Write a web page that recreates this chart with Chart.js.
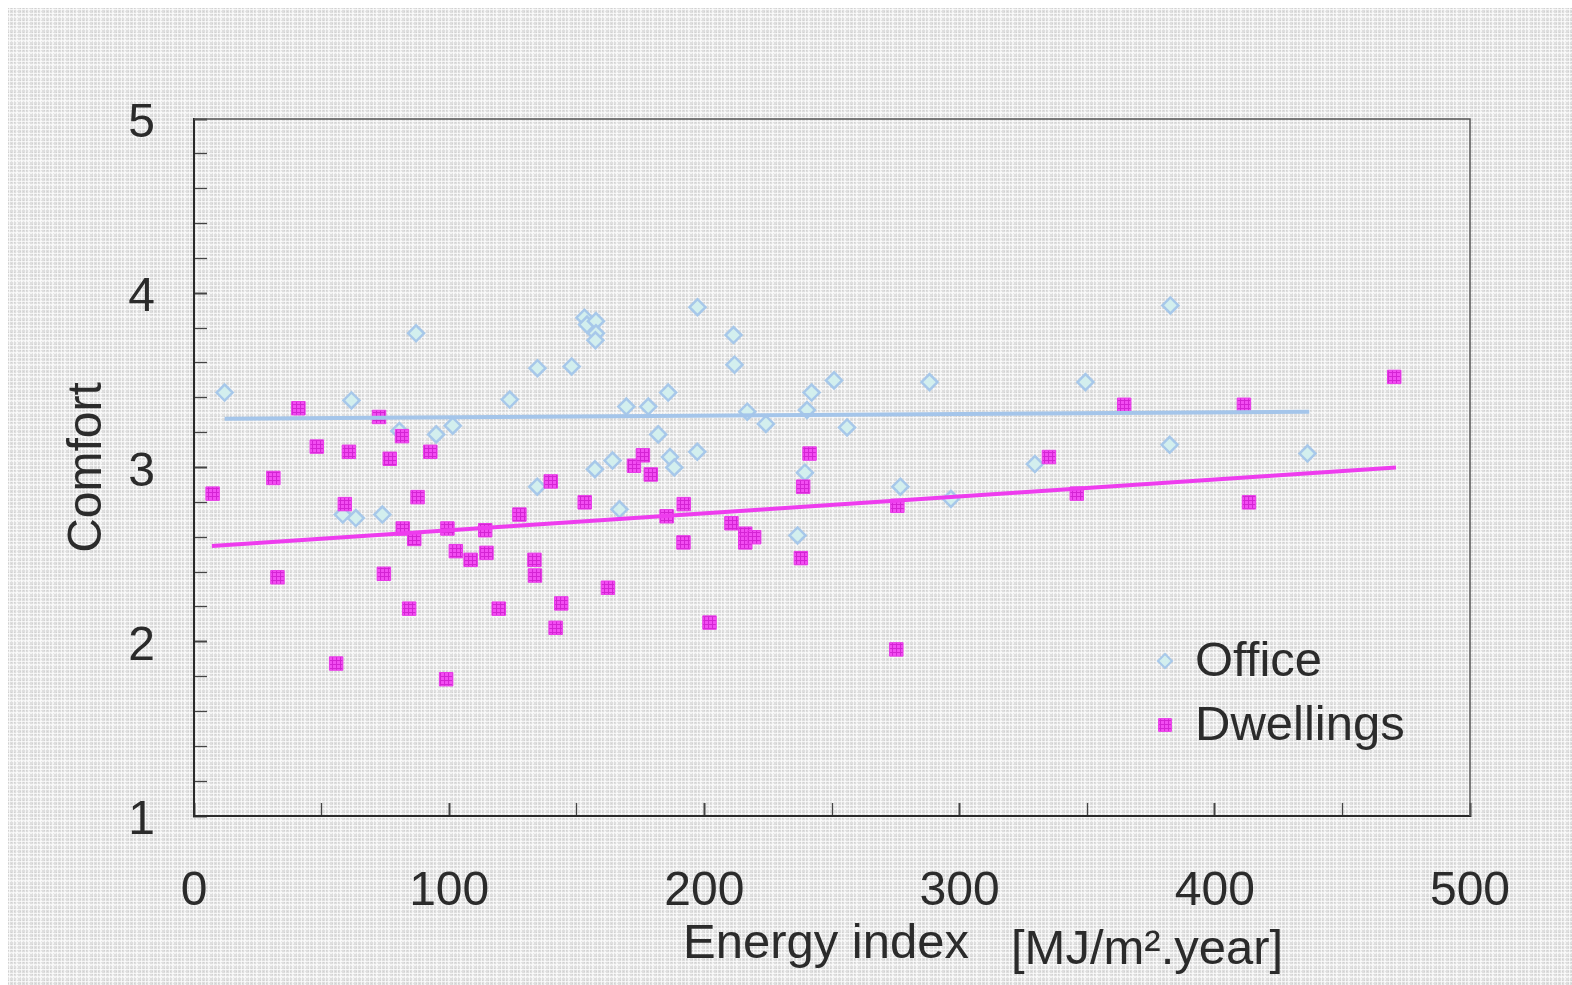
<!DOCTYPE html>
<html>
<head>
<meta charset="utf-8">
<script src="https://cdn.jsdelivr.net/npm/chart.js@4.4.1/dist/chart.umd.min.js"></script>
<style>
  html, body { margin: 0; padding: 0; background: #fff; }
</style>
</head>
<body>
<canvas id="chart" width="1572" height="985"></canvas>
<script>
'use strict';

// Office buildings (diamonds)
let officeX = [12, 61.7, 87, 58.3, 63.4, 73.8, 80.5, 94.9, 101.4, 123.7,
  134.6, 134.5, 148, 153, 154, 157.5, 157.5, 157.3, 157.1, 164,
  166.7, 169.4, 178, 181.9, 185.8, 186.5, 188.2, 197.3, 197.2, 211.4,
  211.8, 216.8, 224.1, 236.5, 239.4, 240.2, 242, 250.8, 255.9, 276.8,
  288.2, 296.6, 329.5, 349.3, 382.6, 382.3, 436.3];
let officeY = [3.43, 3.385, 3.77, 2.73, 2.71, 2.73, 3.21, 3.19, 3.24, 3.39,
  3.57, 2.89, 3.58, 3.86, 3.82, 3.84, 3.77, 3.73, 2.99, 3.04,
  2.76, 3.35, 3.35, 3.19, 3.43, 3.06, 3.0, 3.92, 3.09, 3.76,
  3.59, 3.32, 3.25, 2.61, 2.97, 3.33, 3.43, 3.50, 3.23, 2.89,
  3.49, 2.82, 3.02, 3.49, 3.93, 3.13, 3.08];

// Dwellings (squares)
let dwellX = [7.3, 31.1, 32.7, 40.9, 48.1, 55.7, 59.1, 60.7, 72.5, 74.4,
  76.7, 81.5, 81.8, 84.3, 86.3, 87.6, 92.6, 98.8, 99.3, 102.6,
  108.4, 114.1, 114.6, 119.4, 127.5, 133.4, 133.6, 139.8, 141.7, 143.9,
  153.1, 162.2, 172.4, 175.9, 179, 185.2, 191.9, 191.8, 202, 210.6,
  216, 216, 219.5, 237.8, 238.7, 241.2, 275.6, 275.2, 335, 345.9,
  364.5, 411.4, 413.4, 470.3];
let dwellY = [2.85, 2.94, 2.37, 3.34, 3.12, 1.875, 2.79, 3.09, 3.29, 2.39,
  3.05, 3.18, 2.65, 2.19, 2.59, 2.83, 3.09, 1.785, 2.65, 2.52,
  2.47, 2.64, 2.51, 2.19, 2.73, 2.47, 2.38, 2.92, 2.08, 2.22,
  2.80, 2.31, 3.01, 3.07, 2.96, 2.72, 2.79, 2.57, 2.11, 2.68,
  2.62, 2.57, 2.60, 2.48, 2.89, 3.08, 2.78, 1.956, 3.06, 2.85,
  3.36, 3.36, 2.80, 3.52];

// regression lines (end points)
let officeFitX = [12, 437];
let officeFitY = [3.28, 3.32];
let dwellFitX = [7, 471];
let dwellFitY = [2.55, 3.0];

let seriesNames = ['Office', 'Dwellings'];
let xTitle = ['Energy index', '[MJ/m\u00B2.year]'];
let yTitle = 'Comfort';

let fontFamily = '"Liberation Sans", Arial, Helvetica, sans-serif';
let textColor = '#2b2b2b';

function toPoints(xs, ys) {
  let pts = [];
  for (let i = 0; i < xs.length; i++) {
    pts.push({ x: xs[i], y: ys[i] });
  }
  return pts;
}

function makeBackdrop() {
  let c = document.createElement('canvas');
  c.width = 12;
  c.height = 12;
  let g = c.getContext('2d');
  g.fillStyle = '#dedede';
  g.fillRect(0, 0, 12, 12);
  g.fillStyle = 'rgba(255,255,255,0.65)';
  [1, 4, 5, 9].forEach(function (p) {
    g.fillRect(p, 0, 1, 12);
    g.fillRect(0, p, 12, 1);
  });
  g.fillStyle = 'rgba(160,160,160,0.2)';
  for (let i = 0; i < 12; i += 3) {
    for (let j = 0; j < 12; j += 3) {
      g.fillRect(i + 2, j + 2, 1, 1);
    }
  }
  return g.createPattern(c, 'repeat');
}

function makeMesh() {
  let c = document.createElement('canvas');
  c.width = 4;
  c.height = 4;
  let g = c.getContext('2d');
  g.fillStyle = '#f24cf2';
  g.fillRect(0, 0, 4, 4);
  g.fillStyle = '#d424d4';
  g.fillRect(0, 0, 4, 1);
  g.fillRect(0, 0, 1, 4);
  return g.createPattern(c, 'repeat');
}

let backdrop = makeBackdrop();
let mesh = makeMesh();

let officeFill = '#d3efee';
let officeEdge = '#a7c8ea';
let dwellEdge = '#e83ae8';
let officeLine = '#a4c5ea';
let dwellLine = '#ee3cee';

let isWhole = function (v) {
  return Math.abs(v - Math.round(v)) < 1e-6;
};

let decor = {
  id: 'decor',
  beforeDraw: function (chart) {
    let ctx = chart.ctx;
    ctx.save();
    ctx.fillStyle = '#ffffff';
    ctx.fillRect(0, 0, chart.width, chart.height);
    ctx.fillStyle = backdrop;
    ctx.fillRect(8, 8, chart.width - 8, chart.height - 8);
    ctx.restore();
  },
  afterDraw: function (chart) {
    let ctx = chart.ctx;
    let a = chart.chartArea;
    ctx.save();
    // top and right side of the frame
    ctx.strokeStyle = '#555555';
    ctx.lineWidth = 1.5;
    ctx.beginPath();
    ctx.moveTo(a.left, a.top);
    ctx.lineTo(a.right, a.top);
    ctx.lineTo(a.right, a.bottom);
    ctx.stroke();

    // x axis title
    ctx.font = '49px ' + fontFamily;
    ctx.fillStyle = textColor;
    ctx.textAlign = 'left';
    ctx.textBaseline = 'alphabetic';
    ctx.fillText(xTitle[0], 683, 958);
    ctx.fillText(xTitle[1], 1011, 964);

    // legend
    let items = [
      { style: 'rectRot', radius: 7, fill: officeFill, edge: officeEdge, bw: 2 },
      { style: 'rect', radius: 9, fill: mesh, edge: dwellEdge, bw: 1 }
    ];
    let rowY = [661, 725];
    for (let i = 0; i < items.length; i++) {
      let it = items[i];
      ctx.fillStyle = it.fill;
      ctx.strokeStyle = it.edge;
      ctx.lineWidth = it.bw;
      Chart.helpers.drawPoint(ctx, { pointStyle: it.style, rotation: 0, radius: it.radius, borderWidth: it.bw }, 1165, rowY[i]);
      ctx.fillStyle = textColor;
      ctx.font = '49px ' + fontFamily;
      ctx.textBaseline = 'middle';
      ctx.fillText(seriesNames[i], 1195, rowY[i] + 1);
    }
    ctx.restore();
  }
};

let chartData = {
  type: 'scatter',
  data: {
    datasets: [{
      label: 'Dwellings fit',
      type: 'line',
      data: toPoints(dwellFitX, dwellFitY),
      borderColor: dwellLine,
      borderWidth: 4,
      pointRadius: 0,
      fill: false,
      order: 1
    }, {
      label: 'Office fit',
      type: 'line',
      data: toPoints(officeFitX, officeFitY),
      borderColor: officeLine,
      borderWidth: 4,
      pointRadius: 0,
      fill: false,
      order: 2
    }, {
      label: seriesNames[1],
      data: toPoints(dwellX, dwellY),
      pointStyle: 'rect',
      pointRadius: 9.5,
      pointHoverRadius: 9.5,
      backgroundColor: mesh,
      borderColor: dwellEdge,
      borderWidth: 1,
      order: 3
    }, {
      label: seriesNames[0],
      data: toPoints(officeX, officeY),
      pointStyle: 'rectRot',
      pointRadius: 8,
      pointHoverRadius: 8,
      backgroundColor: officeFill,
      borderColor: officeEdge,
      borderWidth: 2.5,
      order: 4
    }]
  },
  options: {
    responsive: false,
    animation: false,
    layout: {
      padding: { left: 40, top: 119, right: 102, bottom: 0 }
    },
    plugins: {
      legend: { display: false },
      tooltip: { enabled: false }
    },
    scales: {
      x: {
        type: 'linear',
        min: 0,
        max: 500,
        afterFit: function (scale) { scale.height = 169; },
        ticks: {
          stepSize: 50,
          autoSkip: false,
          maxRotation: 0,
          padding: 60,
          color: textColor,
          font: { size: 48, family: fontFamily },
          callback: function (v) { return v % 100 === 0 ? String(v) : ''; }
        },
        grid: {
          drawOnChartArea: false,
          drawTicks: true,
          tickLength: -13,
          tickColor: '#444444',
          tickWidth: function (c) { return c.tick && c.tick.value % 100 === 0 ? 2 : 1.3; }
        },
        border: { display: true, color: '#2a2a2a', width: 2 }
      },
      y: {
        type: 'linear',
        min: 1,
        max: 5,
        afterFit: function (scale) { scale.width = 154; },
        title: {
          display: true,
          text: yTitle,
          color: textColor,
          font: { size: 48, family: fontFamily },
          padding: { top: 19, bottom: 0 }
        },
        ticks: {
          stepSize: 0.2,
          autoSkip: false,
          padding: 52,
          labelOffset: 5,
          color: textColor,
          font: { size: 48, family: fontFamily },
          callback: function (v) { return isWhole(v) ? String(Math.round(v)) : ''; }
        },
        grid: {
          drawOnChartArea: false,
          drawTicks: true,
          tickLength: -13,
          tickColor: '#444444',
          tickWidth: function (c) { return c.tick && isWhole(c.tick.value) ? 2 : 1.3; }
        },
        border: { display: true, color: '#2a2a2a', width: 2 }
      }
    }
  },
  plugins: [decor]
};

let ctx = document.getElementById('chart');
new Chart(ctx, chartData);
</script>
</body>
</html>
